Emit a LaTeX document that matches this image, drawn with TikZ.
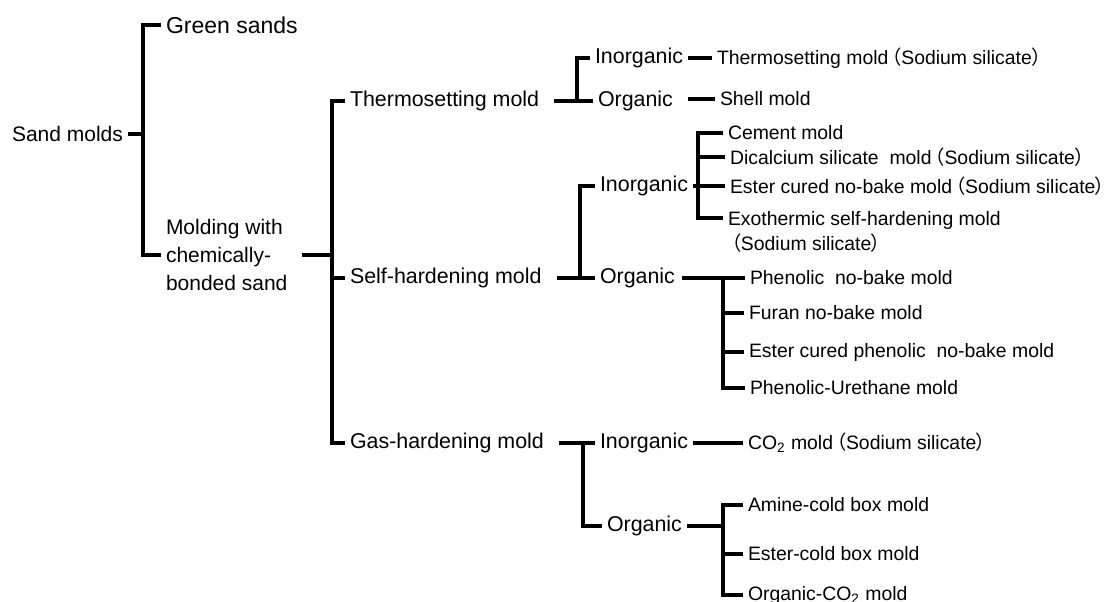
\documentclass[tikz,border=0pt]{standalone}
\usepackage{fontspec}
\setmainfont{Liberation Sans}
\newfontfamily\cjk[RawFeature=+palt]{Noto Sans CJK JP}
\newcommand{\jlp}{{\cjk\,（}}
\newcommand{\jrp}{{\cjk ）}}
\tikzset{
  br/.style={line width=1.6pt},
  gap/.style={shorten <=5pt},
  lbl/.style={anchor=west, inner sep=1.5pt, outer sep=1pt},
  big/.style={lbl, font=\fontsize{11.5}{14}\selectfont},
  top/.style={lbl, font=\fontsize{10.5}{14}\selectfont},
  mid/.style={lbl, font=\fontsize{10.7}{13}\selectfont},
  leaf/.style={lbl, font=\fontsize{9.7}{12.5}\selectfont}
}

\begin{document}
\begin{tikzpicture}[x=0.5pt, y=-0.5pt]
\useasboundingbox (0,0) rectangle (1114,601);
\coordinate (x0) at (143,0);
\coordinate (x1) at (332,0);
\coordinate (x2) at (577,0);
\coordinate (x3) at (580,0);
\coordinate (x4) at (698,0);
\coordinate (x5) at (723,0);
\coordinate (x6) at (583,0);
\coordinate (x7) at (723,0);
\node[top] (sand) at (7,134) {Sand molds};
\node[big] (green) at (161,25) {Green sands};
\node[top, align=left] (chem) at (161,255) {Molding with\\chemically-\\bonded sand};
\node[mid] (thermo) at (345,101) {Thermosetting mold};
\node[mid] (self) at (345,278) {Self-hardening mold};
\node[mid] (gas) at (345,443) {Gas-hardening mold};
\node[mid] (thi) at (590,58) {Inorganic};
\node[mid] (tho) at (593,101) {Organic};
\node[leaf] (thl1) at (712,58) {Thermosetting mold\jlp Sodium silicate\jrp};
\node[leaf] (thl2) at (715,99) {Shell mold};
\node[mid] (shi) at (595,186) {Inorganic};
\node[mid] (sho) at (595,278) {Organic};
\node[leaf] (cem) at (723,133) {Cement mold};
\node[leaf] (dic) at (725,157) {Dicalcium silicate\ \ mold\jlp Sodium silicate\jrp};
\node[leaf] (est) at (725,186) {Ester cured no-bake mold\jlp Sodium silicate\jrp};
\node[leaf, anchor=north west, align=left] (exo) at (723,206) {Exothermic self-hardening mold\\\jlp Sodium silicate\jrp};
\coordinate (exot) at ([yshift=-6pt]exo.north west);
\node[leaf] (phe) at (745,278) {Phenolic\ \ no-bake mold};
\node[leaf] (fur) at (744,313) {Furan no-bake mold};
\node[leaf] (ecp) at (744,352) {Ester cured phenolic\ \ no-bake mold};
\node[leaf] (pu) at (745,388) {Phenolic-Urethane mold};
\node[mid] (gi) at (595,443) {Inorganic};
\node[mid] (go) at (602,526) {Organic};
\node[leaf] (co2) at (743,443) {CO\textsubscript{2} mold\jlp Sodium silicate\jrp};
\node[leaf] (am) at (743,505) {Amine-cold box mold};
\node[leaf] (ecb) at (743,554) {Ester-cold box mold};
\node[leaf] (oco) at (743,595) {Organic-CO\textsubscript{2} mold};
\draw[br] (sand.east) -- (sand.east -| x0);
\draw[br] (green.west) -- (green.west -| x0) -- (chem.west -| x0) -- (chem.west);
\draw[br, gap] (chem.east) -- (chem.east -| x1);
\draw[br] (thermo.west) -- (thermo.west -| x1) -- (gas.west -| x1) -- (gas.west);
\draw[br] (self.west -| x1) -- (self.west);
\draw[br, gap] (thermo.east) -- (tho.west);
\draw[br] (tho.west -| x2) |- (thi.west);
\draw[br] (thi.east) -- (thl1.west);
\draw[br, gap] (tho.east |- thl2.west) -- (thl2.west);
\draw[br, gap] (self.east) -- (sho.west);
\draw[br] (sho.west -| x3) |- (shi.west);
\draw[br] (shi.east) -- (est.west);
\draw[br] (cem.west) -- (cem.west -| x4) -- (exot -| x4) -- (exot);
\draw[br] (dic.west -| x4) -- (dic.west);
\draw[br, shorten <=1pt] (sho.east) -- (phe.west);
\draw[br] (phe.west -| x5) -- (pu.west -| x5) -- (pu.west);
\draw[br] (fur.west -| x5) -- (fur.west);
\draw[br] (ecp.west -| x5) -- (ecp.west);
\draw[br, gap] (gas.east) -- (gi.west);
\draw[br] (gi.west -| x6) |- (go.west);
\draw[br] (gi.east) -- (co2.west);
\draw[br] (go.east) -- (go.east -| x7);
\draw[br] (am.west) -- (am.west -| x7) -- (oco.west -| x7) -- (oco.west);
\draw[br] (ecb.west -| x7) -- (ecb.west);
\end{tikzpicture}
\end{document}
